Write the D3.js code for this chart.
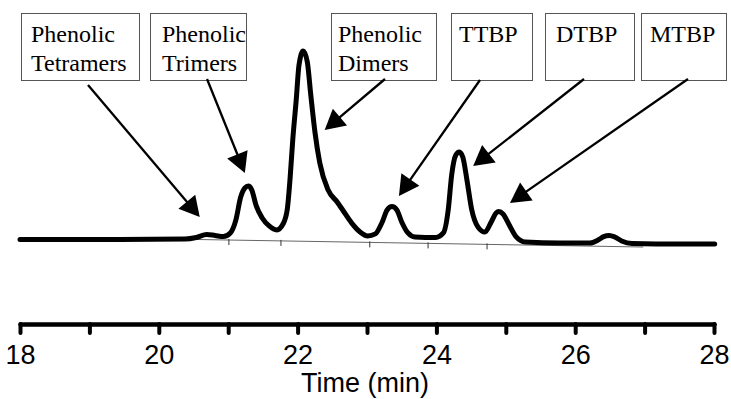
<!DOCTYPE html>
<html>
<head>
<meta charset="utf-8">
<script src="https://cdn.jsdelivr.net/npm/d3@7"></script>
<style>
  html, body { margin: 0; padding: 0; background: #fff; }
  svg { display: block; }
  .lbl { font-family: "Liberation Serif", "Times New Roman", Times, serif; font-size: 24px; fill: #000; }
  .sans { font-family: "Liberation Sans", Arial, Helvetica, sans-serif; font-size: 27px; fill: #000; }
</style>
</head>
<body>
<svg id="chart" width="731" height="399"></svg>
<script>
// ---- Data ----
const time = [18.00, 19.44, 20.38, 20.54, 20.69, 20.81, 20.93, 21.03, 21.11, 21.18, 21.24, 21.29, 21.34, 21.40, 21.49, 21.59, 21.70,
  21.79, 21.85, 21.89, 21.93, 21.98, 22.02, 22.08, 22.14, 22.19, 22.25, 22.32, 22.44, 22.57, 22.65, 22.78, 22.90, 23.01,
  23.12, 23.22, 23.29, 23.36, 23.43, 23.50, 23.59, 23.69, 23.99, 24.10, 24.17, 24.22, 24.28, 24.33, 24.38, 24.44, 24.51,
  24.60, 24.70, 24.79, 24.86, 24.90, 24.96, 25.05, 25.15, 25.28, 25.78, 26.21, 26.33, 26.41, 26.49, 26.57, 26.67, 26.82,
  27.51, 28.01];
const signal = [0.3, 0.3, 0.5, 1.3, 2.9, 2.4, 1.8, 3.7, 10.5, 22.6, 27.4, 28.4, 26.3, 18.4, 11.6, 7.4, 5.3,
  8.4, 15.8, 31.6, 52.6, 73.7, 92.1, 99.5, 93.7, 76.3, 56.8, 40.5, 26.3, 20.0, 15.8, 8.9, 4.2, 2.1,
  3.2, 9.5, 15.8, 17.6, 15.8, 9.5, 3.7, 1.6, 1.3, 3.7, 15.8, 34.2, 44.7, 46.3, 43.7, 31.6, 15.8,
  6.8, 4.2, 9.5, 14.2, 15.0, 13.7, 7.9, 1.6, -1.1, -1.6, -1.6, 0.0, 1.8, 2.4, 1.6, -0.5, -1.8,
  -2.1, -2.1];

// integration baseline (time, signal) endpoints and peak-boundary marks
const baselineTime = [20.50, 26.98];
const baselineSignal = [0.3, -3.7];
const integrationMarks = [21.01, 21.76, 23.04, 23.88, 24.73];

// annotations: label lines and arrow tip (time, signal)
const labelLines = [["Phenolic", "Tetramers"], ["Phenolic", "Trimers"], ["Phenolic", "Dimers"], ["TTBP"], ["DTBP"], ["MTBP"]];
const arrowTipTime = [20.59, 21.24, 22.39, 23.46, 24.53, 25.06];
const arrowTipSignal = [12.1, 35.3, 57.9, 23.2, 38.9, 19.5];

const tickValues = [18, 19, 20, 21, 22, 23, 24, 25, 26, 27, 28];
const xTitle = "Time (min)";

// ---- Layout (pixels) ----
const boxes = [
  {x: 21, w: 118, tx: 31, ax: 88, ay: 85},
  {x: 150, w: 96, tx: 162, ax: 207, ay: 79},
  {x: 331, w: 105, tx: 338, ax: 385, ay: 79},
  {x: 451, w: 81, tx: 459, ax: 480, ay: 80},
  {x: 545, w: 89, tx: 556, ax: 584, ay: 79},
  {x: 641, w: 85, tx: 650, ax: 688, ay: 79}
];
const boxTop = 13, boxH = 67;

const svg = d3.select("#chart");
svg.append("rect").attr("width", 731).attr("height", 399).attr("fill", "#fff");

const x = d3.scaleLinear().domain([18, 28]).range([20, 714]);
const y = d3.scaleLinear().domain([0, 100]).range([240, 50]);

// thin integration baseline
const blY = t => baselineSignal[0] + (t - baselineTime[0]) / (baselineTime[1] - baselineTime[0]) * (baselineSignal[1] - baselineSignal[0]);
svg.append("line")
  .attr("x1", x(baselineTime[0])).attr("y1", y(baselineSignal[0]))
  .attr("x2", x(baselineTime[1])).attr("y2", y(baselineSignal[1]))
  .attr("stroke", "#666").attr("stroke-width", 1);
svg.selectAll("line.mark").data(integrationMarks).join("line")
  .attr("class", "mark")
  .attr("x1", d => x(d)).attr("x2", d => x(d))
  .attr("y1", d => y(blY(d)) - 1).attr("y2", d => y(blY(d)) + 5)
  .attr("stroke", "#333").attr("stroke-width", 1);

// chromatogram
const pts = time.map((t, i) => [t, signal[i]]);
const line = d3.line().x(d => x(d[0])).y(d => y(d[1])).curve(d3.curveMonotoneX);
svg.append("path").datum(pts)
  .attr("d", line)
  .attr("fill", "none").attr("stroke", "#000").attr("stroke-width", 5)
  .attr("stroke-linejoin", "round").attr("stroke-linecap", "round");

// annotation boxes
boxes.forEach((b, i) => {
  const g = svg.append("g");
  g.append("rect").attr("x", b.x + 0.5).attr("y", boxTop + 0.5).attr("width", b.w).attr("height", boxH)
    .attr("fill", "#fff").attr("stroke", "#555").attr("stroke-width", 1);
  labelLines[i].forEach((s, j) => {
    g.append("text").attr("class", "lbl").attr("x", b.tx).attr("y", 42 + j * 29).text(s);
  });
  // arrow
  const tx = x(arrowTipTime[i]), ty = y(arrowTipSignal[i]);
  const dx = tx - b.ax, dy = ty - b.ay, L = Math.hypot(dx, dy);
  const ux = dx / L, uy = dy / L;
  const headL = 20, headW = 11;
  const bx = tx - ux * headL, by = ty - uy * headL;
  g.append("line").attr("x1", b.ax).attr("y1", b.ay).attr("x2", bx + ux * 2).attr("y2", by + uy * 2)
    .attr("stroke", "#000").attr("stroke-width", 2.3);
  g.append("polygon")
    .attr("points", [[tx, ty], [bx - uy * headW, by + ux * headW], [bx + uy * headW, by - ux * headW]].map(p => p.join(",")).join(" "))
    .attr("fill", "#000");
});

// axis
const axis = d3.axisBottom(x).tickValues(tickValues)
  .tickFormat(d => d % 2 === 0 ? d : "")
  .tickSizeInner(9).tickSizeOuter(0).tickPadding(12);
const ag = svg.append("g").attr("transform", "translate(0,324)").call(axis);
ag.attr("font-family", null).attr("font-size", null);
ag.select(".domain").attr("stroke", "#000").attr("stroke-width", 4.5).attr("stroke-linecap", "round");
ag.selectAll(".tick line").attr("stroke", "#000").attr("stroke-width", 4).attr("stroke-linecap", "round");
ag.selectAll(".tick text").attr("class", "sans").attr("fill", null);

svg.append("text").attr("class", "sans").attr("x", 365).attr("y", 392).attr("text-anchor", "middle")
  .text(xTitle);
</script>
</body>
</html>
